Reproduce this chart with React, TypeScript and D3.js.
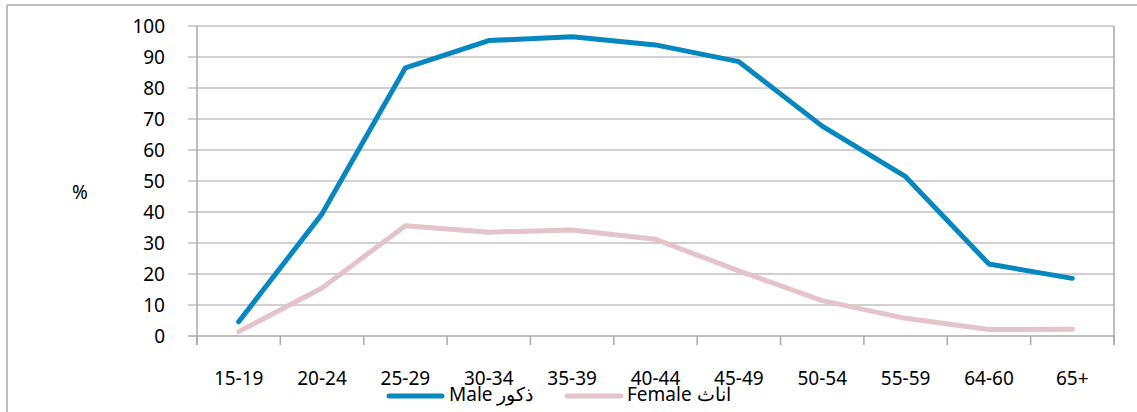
import React from "react";
import * as d3 from "d3";

const categories = ["15-19", "20-24", "25-29", "30-34", "35-39", "40-44", "45-49", "50-54", "55-59", "64-60", "65+"];
const maleValues = [4.6, 39.4, 86.5, 95.3, 96.5, 93.9, 88.5, 67.7, 51.4, 23.2, 18.6];
const femaleValues = [1.4, 15.5, 35.6, 33.5, 34.2, 31.2, 21.0, 11.4, 5.7, 2.1, 2.2];
const yTicks = [0, 10, 20, 30, 40, 50, 60, 70, 80, 90, 100];
const seriesNames = ["Male ذكور", "Female اناث"];

const W = 1137;
const H = 412;
const left = 197;
const right = 1114;
const top = 26;
const bottom = 336;
const FONT = "'Noto Sans', sans-serif";
const MALE = "#0787bf";
const FEMALE = "#e4c3ca";
const GRID = "#c0c0c0";
const AXIS = "#a8a8a8";

export default function App() {
  const x = d3.scaleBand<string>().domain(categories).range([left, right]);
  const y = d3.scaleLinear().domain([0, 100]).range([bottom, top]);
  const line = d3
    .line<number>()
    .x((_, i) => (x(categories[i]) as number) + x.bandwidth() / 2)
    .y((d) => y(d));
  const boundaries = categories.map((c) => x(c) as number).concat([right]);

  return (
    <svg
      width={W}
      height={H}
      style={{ position: "absolute", left: 0, top: 0, background: "#fff" }}
      fontFamily={FONT}
    >
      {/* outer frame */}
      <line x1={7} x2={W} y1={5} y2={5} stroke={AXIS} strokeWidth={1.5} />
      <line x1={7} x2={7} y1={5} y2={H} stroke={AXIS} strokeWidth={1.5} />

      {/* gridlines */}
      {yTicks.map((t) => (
        <line
          key={t}
          x1={left - 9}
          x2={right}
          y1={y(t)}
          y2={y(t)}
          stroke={t === 0 ? AXIS : GRID}
          strokeWidth={1.5}
        />
      ))}
      {/* axes */}
      <line x1={left} x2={left} y1={top} y2={bottom + 9} stroke={AXIS} strokeWidth={1.5} />
      <line x1={right} x2={right} y1={top} y2={bottom + 9} stroke={AXIS} strokeWidth={1.5} />
      {boundaries.map((b, i) => (
        <line key={i} x1={b} x2={b} y1={bottom} y2={bottom + 9} stroke={AXIS} strokeWidth={1.5} />
      ))}

      {/* y tick labels */}
      {yTicks.map((t) => (
        <text key={t} x={165} y={y(t)} dy="0.35em" textAnchor="end" fontSize={19} fill="#000">
          {t}
        </text>
      ))}
      <text x={80} y={192} dy="0.35em" textAnchor="middle" fontSize={19} fill="#000">
        %
      </text>

      {/* x labels */}
      {categories.map((c) => (
        <text key={c} x={(x(c) as number) + x.bandwidth() / 2} y={385} textAnchor="middle" fontSize={19} fill="#000">
          {c}
        </text>
      ))}

      {/* lines */}
      <path d={line(femaleValues) || ""} fill="none" stroke={FEMALE} strokeWidth={5} strokeLinecap="round" strokeLinejoin="round" />
      <path d={line(maleValues) || ""} fill="none" stroke={MALE} strokeWidth={5} strokeLinecap="round" strokeLinejoin="round" />

      {/* legend */}
      <line x1={389} x2={442} y1={396} y2={396} stroke={MALE} strokeWidth={5} strokeLinecap="round" />
      <text x={449} y={401} fontSize={19} fill="#000">{seriesNames[0]}</text>
      <line x1={567} x2={621} y1={396} y2={396} stroke={FEMALE} strokeWidth={5} strokeLinecap="round" />
      <text x={627} y={401} fontSize={19} fill="#000">{seriesNames[1]}</text>
    </svg>
  );
}
